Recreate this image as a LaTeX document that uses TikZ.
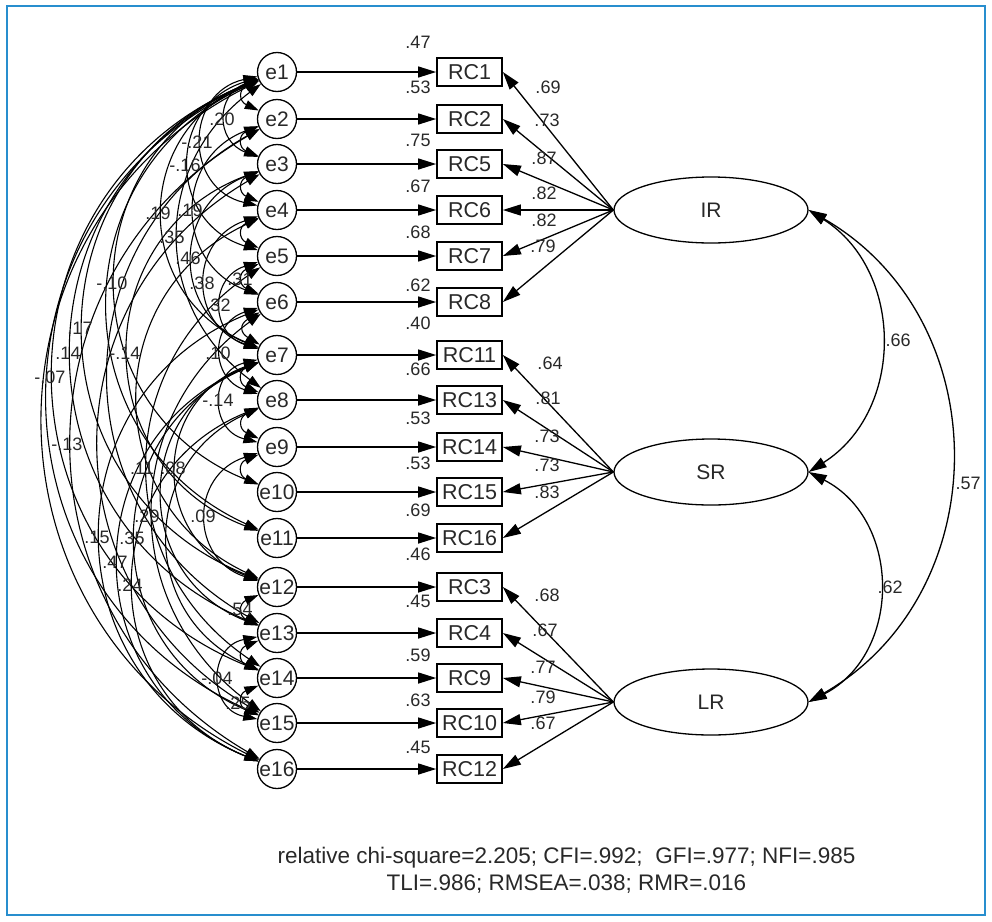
\documentclass[tikz,border=0pt]{standalone}
\usepackage{fontspec}
\setmainfont{Liberation Sans}
\usetikzlibrary{arrows.meta,shapes.geometric}
\definecolor{framecol}{RGB}{40,142,206}
\definecolor{txt}{RGB}{40,40,40}

% vertical position of error / indicator row #1 (1..16)
\newcommand\rowy[1]{\ifcase\numexpr#1\relax 0\or 72\or 119\or 164\or 210\or 256\or 302\or 355\or 400\or
  447\or 492\or 538\or 587\or 633\or 678\or 723\or 769\fi}

% covariance arc between two error terms, bowing to the west
% #1 upper index, #2 lower index, #3 sagitta (pt)
\newcommand\errcov[3]{%
  \edef\ya{\rowy{#1}}\edef\yb{\rowy{#2}}%
  \pgfmathsetmacro\hc{(\yb-\ya)/2}%
  \pgfmathsetmacro\ph{2*atan(#3/\hc)}%
  \pgfmathsetmacro\rr{#3/2+(\hc/#3)*\hc/2}%
  \pgfmathsetmacro\cd{4/3*tan(\ph/2)*\rr}%
  \draw[cov] (e#1) to[out=270-\ph, in=90+\ph, distance=\cd pt] (e#2);}

% covariance arc between two latent factors, bowing to the east
% #1 upper anchor, #2 lower anchor, #3 half chord, #4 sagitta
\newcommand\latcov[4]{%
  \pgfmathsetmacro\ph{2*atan(#4/#3)}%
  \pgfmathsetmacro\rr{#4/2+(#3/#4)*#3/2}%
  \pgfmathsetmacro\cd{4/3*tan(\ph/2)*\rr}%
  \draw[lcov] (#1) to[out=270+\ph, in=90-\ph, distance=\cd pt] (#2);}

\begin{document}
\begin{tikzpicture}[x=1pt,y=1pt,
  line width=1.3pt,
  every node/.style={text=txt},
  err/.style={draw, circle, minimum size=39pt, inner sep=0pt, font=\fontsize{21}{21}\selectfont},
  obs/.style={draw, rectangle, minimum width=65pt, minimum height=28pt, inner sep=0pt, line width=1.7pt, font=\fontsize{21.5}{21.5}\selectfont},
  lat/.style={draw, ellipse, minimum width=194pt, minimum height=66pt, inner sep=0pt, font=\fontsize{21}{21}\selectfont},
  num/.style={font=\fontsize{18}{18}\selectfont, inner sep=0pt},
  fit/.style={font=\fontsize{22.5}{22.5}\selectfont, inner sep=0pt},
  reg/.style={-{Triangle[length=18pt,width=11pt]}},
  cov/.style={{Triangle[length=14pt,width=9pt]}-{Triangle[length=14pt,width=9pt]}, line width=1.1pt},
  lcov/.style={{Triangle[length=18pt,width=11pt]}-{Triangle[length=18pt,width=11pt]}},
]
\useasboundingbox (0,0) rectangle (992,-921);
\draw[framecol, line width=2pt] (7,-6) rectangle (985,-915);

% error terms, indicators and their paths
\foreach \i/\y/\rc in {1/72/1,2/119/2,3/164/5,4/210/6,5/256/7,6/302/8,7/355/11,8/400/13,
                       9/447/14,10/492/15,11/538/16,12/587/3,13/633/4,14/678/9,15/723/10,16/769/12}{
  \node[err] (e\i) at (277,-\y) {e\i};
  \node[obs] (r\i) at (469.5,-\y) {RC\rc};
  \draw[reg] (e\i) -- (r\i);
}

% latent factors
\node[lat] (IR) at (711,-210) {IR};
\node[lat] (SR) at (711,-472) {SR};
\node[lat] (LR) at (711,-702) {LR};

\foreach \i in {1,...,6}   {\draw[reg] (IR.west) -- (r\i.east);}
\foreach \i in {7,...,11}  {\draw[reg] (SR.west) -- (r\i.east);}
\foreach \i in {12,...,16} {\draw[reg] (LR.west) -- (r\i.east);}

% loadings
\foreach \v/\x/\y in {.69/548/87,.73/547/120,.87/544/158,.82/544/193,.82/544/220,.79/543/246,
                      .64/550/363,.81/548/398,.73/547/436,.73/547/465,.83/547/492,
                      .68/547/595,.67/545/630,.77/543/667,.79/543/697,.67/543/723}
  {\node[num] at (\x,-\y) {\v};}

% squared multiple correlations
\foreach \v/\y in {.47/42,.53/87,.75/140,.67/186,.68/232,.62/285,.40/323,.66/369,
                   .53/418,.53/463,.69/510,.46/554,.45/601,.59/655,.63/700,.45/747}
  {\node[num] at (418,-\y) {\v};}

% factor covariances
\latcov{IR.east}{SR.east}{131}{72}
\latcov{IR.east}{LR.east}{246}{142}
\latcov{SR.east}{LR.east}{115}{70}
\node[num] at (898,-340) {.66};
\node[num] at (968,-483) {.57};
\node[num] at (890,-587) {.62};

% error covariances: neighbouring terms
\foreach \a/\b in {1/2,2/3,3/4,4/5,5/6,6/7,7/8,8/9,9/10,12/13,13/14,14/15}
  {\errcov{\a}{\b}{15}}

% error covariances: longer arcs
\foreach \a/\b/\s in {1/3/32,1/4/55,1/5/68,1/7/95,2/6/63,1/8/82,3/7/65,1/10/142,4/7/52,
                      5/7/36,1/12/174,1/13/186,3/11/129,1/14/204,6/8/36,7/9/36,2/16/187,
                      5/14/112,7/12/81,6/15/107,9/12/51,6/16/157,7/15/122,7/16/139,
                      8/16/124,13/15/37,1/11/150,1/15/210,1/16/215,4/12/120,2/13/150,
                      8/14/90,7/13/95,3/15/160}
  {\errcov{\a}{\b}{\s}}

\foreach \v/\x/\y in {.20/222/119,-.21/197/142,-.16/185/165,.19/158/213,.19/190/210,
                      .35/172/237,.46/188/258,-.10/112/283,.38/202/283,.31/240/279,
                      .32/218/305,.17/80/328,.14/68/353,-.14/125/353,-.07/50/377,
                      .10/218/353,-.14/218/400,-.13/67/444,.11/142/468,.08/173/468,
                      .29/147/516,.09/203/516,.15/97/537,.35/132/538,.47/115/562,
                      .24/130/585,.54/240/609,-.04/217/678,.25/238/703}
  {\node[num] at (\x,-\y) {\v};}

% fit indices
\node[fit] (fit1) at (566.5,-858) {relative chi-square=2.205; CFI=.992;\ \ GFI=.977; NFI=.985};
\node[fit] (fit2) at (566.5,-884) {TLI=.986; RMSEA=.038; RMR=.016};
\end{tikzpicture}
\end{document}
